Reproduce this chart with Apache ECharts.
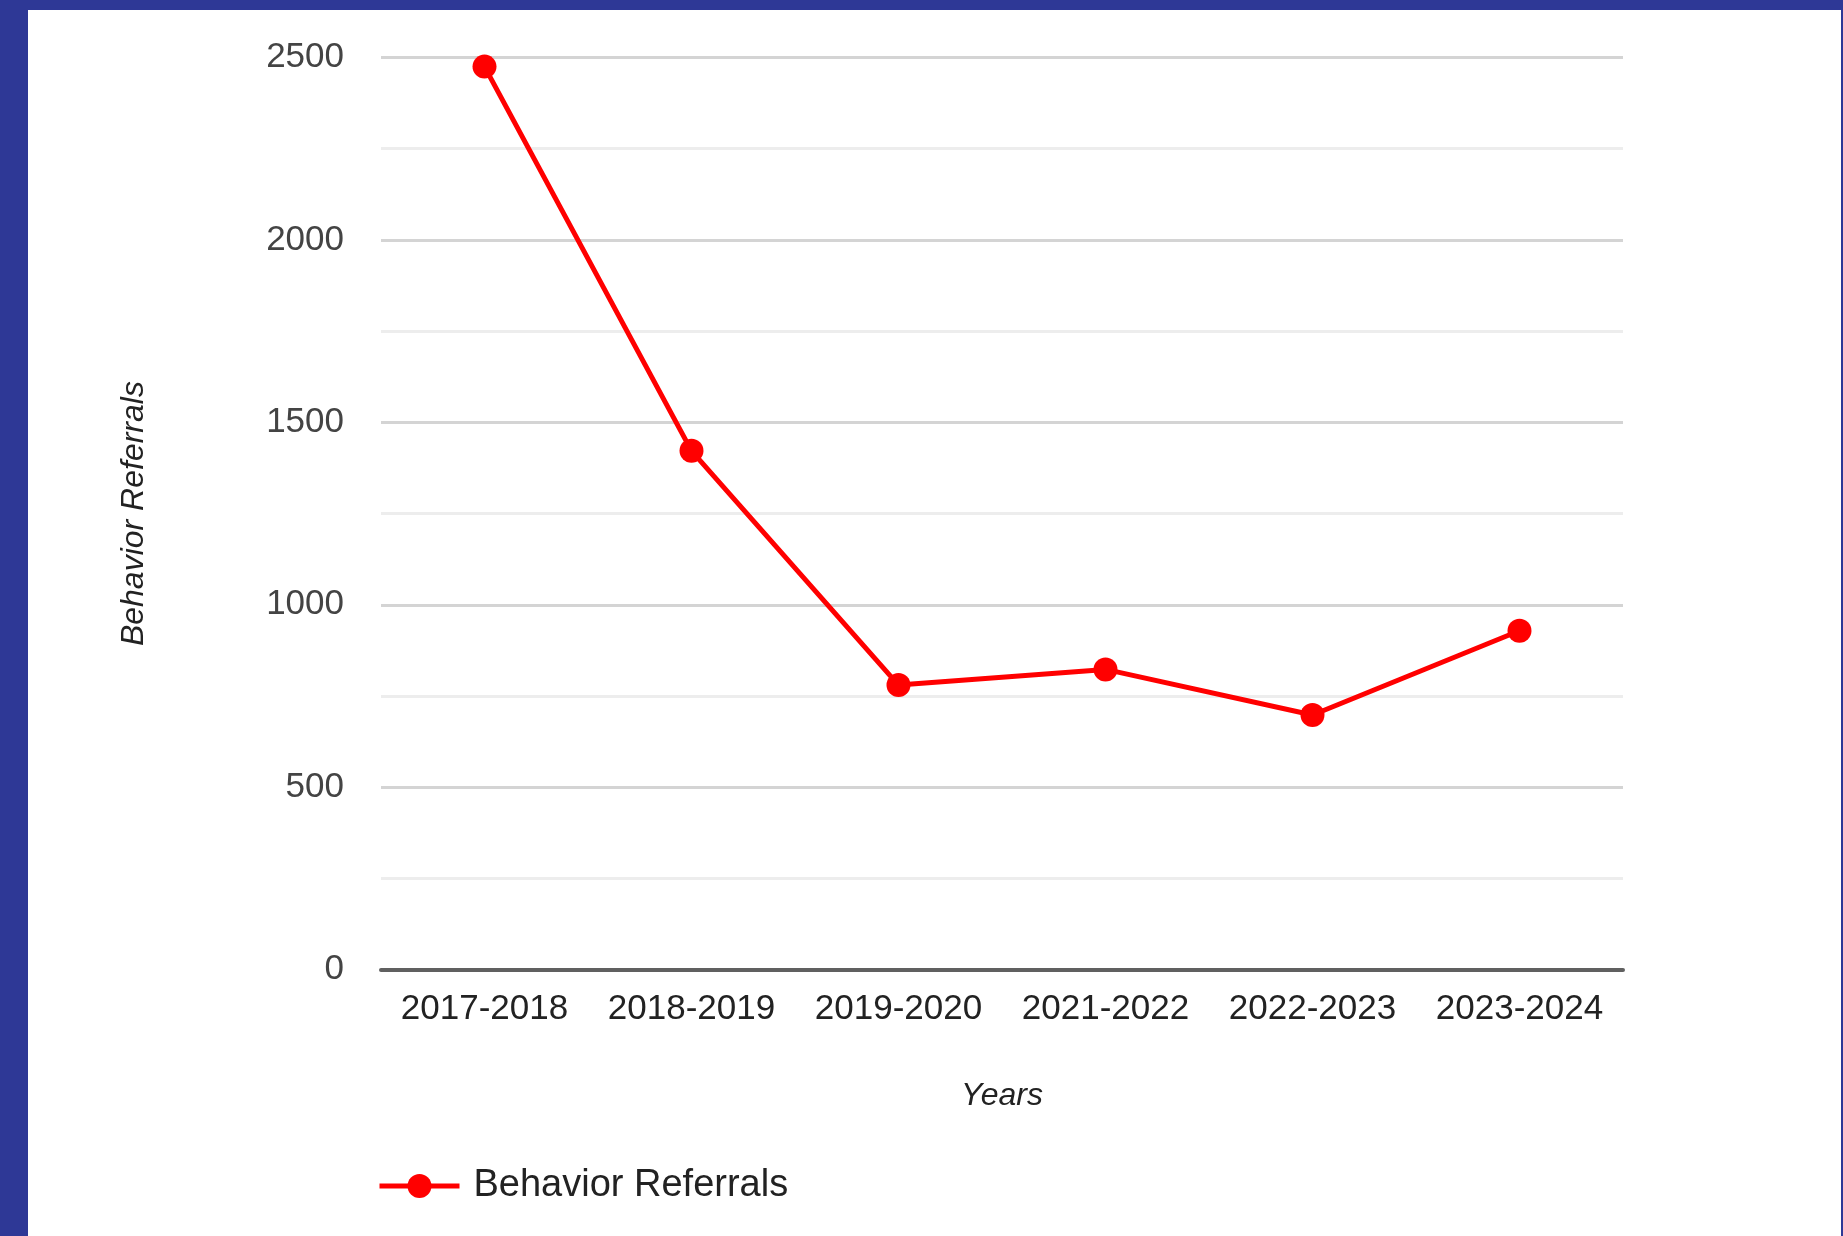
<!DOCTYPE html>
<html>
<head>
<meta charset="utf-8">
<script src="https://cdn.jsdelivr.net/npm/echarts@6/dist/echarts.min.js"></script>
<style>
  html, body { margin: 0; padding: 0; width: 1843px; height: 1236px; overflow: hidden; background: #2e3896; }
  #chart { position: absolute; left: 28px; top: 10px; width: 1813px; height: 1226px; background: #ffffff; }
</style>
</head>
<body>
<div id="chart"></div>
<script>
const categories = ['2017-2018', '2018-2019', '2019-2020', '2021-2022', '2022-2023', '2023-2024'];
const referrals = [2475, 1422, 780, 823, 698, 929];
const seriesName = 'Behavior Referrals';
const xAxisTitle = 'Years';
const yAxisTitle = 'Behavior Referrals';

const chart = echarts.init(document.getElementById('chart'), null, { renderer: 'canvas' });
chart.setOption({
  animation: false,
  backgroundColor: '#ffffff',
  textStyle: { fontFamily: '"Liberation Sans", Arial, sans-serif' },
  grid: { left: 353, right: 218, top: 47.5, bottom: 266.3, containLabel: false },
  legend: {
    left: 349, top: 1157, padding: 0,
    itemWidth: 80, itemHeight: 30,
    lineStyle: { width: 5 },
    textStyle: { fontSize: 38, color: '#222222', padding: [0, 0, 0, 9] },
    data: [seriesName]
  },
  xAxis: {
    type: 'category',
    data: categories,
    boundaryGap: true,
    name: xAxisTitle,
    nameLocation: 'middle',
    nameGap: 110,
    nameTextStyle: { fontSize: 32, fontStyle: 'italic', color: '#222222' },
    axisLine: { show: true, lineStyle: { color: '#606060', width: 4 } },
    axisTick: { show: false },
    axisLabel: { fontSize: 35, color: '#222222', margin: 22, interval: 0 },
    splitLine: { show: false }
  },
  yAxis: {
    type: 'value',
    min: 0, max: 2500, interval: 500,
    name: yAxisTitle,
    nameLocation: 'middle',
    nameRotate: 90,
    nameGap: 231,
    nameTextStyle: { fontSize: 32, fontStyle: 'italic', color: '#222222' },
    axisLine: { show: false },
    axisTick: { show: false },
    axisLabel: { fontSize: 35, color: '#444444', margin: 37, formatter: function (v) { return String(v); } },
    splitLine: { show: true, lineStyle: { color: '#d4d4d4', width: 3 } },
    minorTick: { show: false, splitNumber: 2 },
    minorSplitLine: { show: true, lineStyle: { color: '#ededed', width: 3 } }
  },
  series: [{
    name: seriesName,
    type: 'line',
    data: referrals,
    symbol: 'circle',
    symbolSize: 24,
    lineStyle: { color: '#ff0000', width: 5 },
    itemStyle: { color: '#ff0000' }
  }]
});
</script>
</body>
</html>
